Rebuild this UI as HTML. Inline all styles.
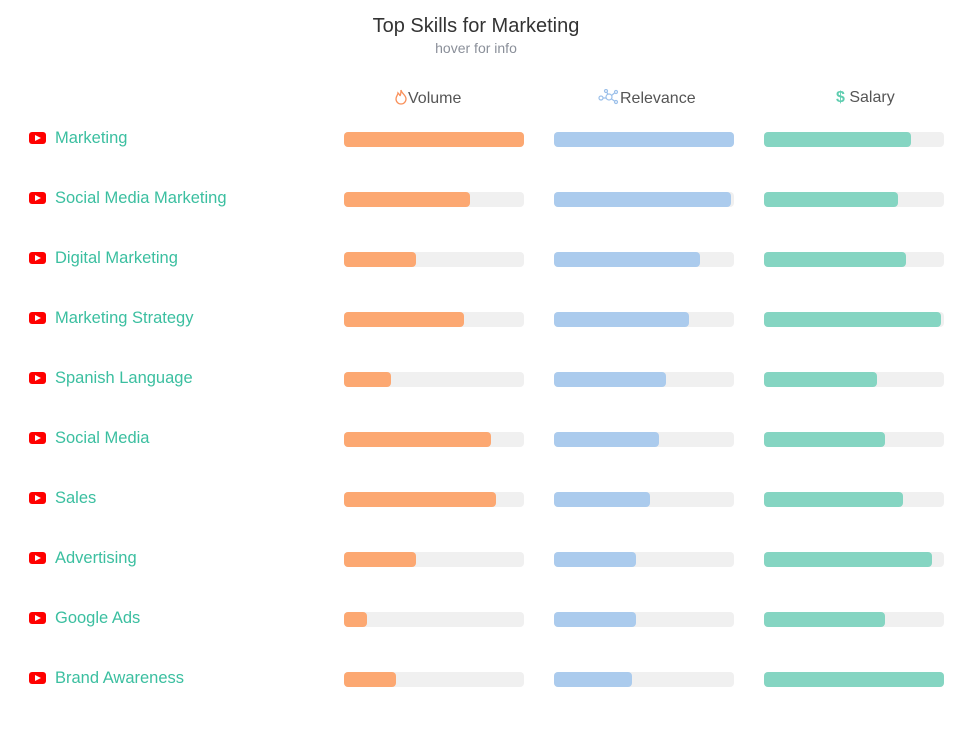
<!DOCTYPE html><html><head><style>
body{margin:0;background:#fff;font-family:"Liberation Sans",sans-serif;width:975px;height:743px;position:relative;overflow:hidden}
.t{position:absolute;left:0;width:952px;text-align:center}
.bg{position:absolute;width:180px;height:15px;border-radius:4px;background:#f0f0f0}
.bg div{height:15px;border-radius:4px}
.yt{position:absolute;left:29px;width:17px;height:12px;background:#f00;border-radius:3px}
.yt:after{content:"";position:absolute;left:6px;top:3px;border-left:6px solid #fff;border-top:3px solid transparent;border-bottom:3px solid transparent}
.lb{position:absolute;left:55px;font-size:16.5px;color:#3bbfa0}
.h{position:absolute;top:89px;font-size:16px;color:#555}
</style></head><body>
<div class="t" style="top:15px;font-size:20px;color:#333">Top Skills for Marketing</div>
<div class="t" style="top:40px;font-size:14px;color:#8a8f99">hover for info</div>
<div class="h" style="left:394px"><svg width="14" height="16" style="vertical-align:-2px"><path d="M7 1C8 5 12 6 12 10a5 5 0 0 1-10 0C2 7 4 6 4 4c1 1 2 2 2 3 1-2 1-4 1-6z" fill="none" stroke="#f9905a" stroke-width="1.3"/></svg>Volume</div>
<div class="h" style="left:598px"><svg width="22" height="16" style="vertical-align:-2px"><g stroke="#9cc0ea" fill="none" stroke-width="1.2"><circle cx="3" cy="9" r="2"/><circle cx="11" cy="8" r="3"/><circle cx="8" cy="2" r="1.5"/><circle cx="18" cy="3" r="1.5"/><circle cx="18" cy="13" r="1.5"/><path d="M5 9h3M9 3.5l1 2M13.5 6.5l3-2.5M13.5 10l3 2"/></g></svg>Relevance</div>
<div class="h" style="left:836px"><b style="color:#5fcdb0">$</b> Salary</div>
<div id="r"></div>
<script>
var n=["Marketing","Social Media Marketing","Digital Marketing","Marketing Strategy","Spanish Language","Social Media","Sales","Advertising","Google Ads","Brand Awareness"];
var v=[180,126,72,120,47,147,152,72,23,52],r=[180,177,146,135,112,105,96,82,82,78],s=[147,134,142,177,113,121,139,168,121,180];
var h="";for(var i=0;i<10;i++){var y=132+60*i;
h+='<div class="yt" style="top:'+y+'px"></div><div class="lb" style="top:'+(y-3)+'px">'+n[i]+'</div>';
h+='<div class="bg" style="left:344px;top:'+y+'px"><div style="width:'+v[i]+'px;background:#fca872"></div></div>';
h+='<div class="bg" style="left:554px;top:'+y+'px"><div style="width:'+r[i]+'px;background:#abcbed"></div></div>';
h+='<div class="bg" style="left:764px;top:'+y+'px"><div style="width:'+s[i]+'px;background:#85d5c2"></div></div>';}
document.getElementById("r").innerHTML=h;
</script></body></html>
